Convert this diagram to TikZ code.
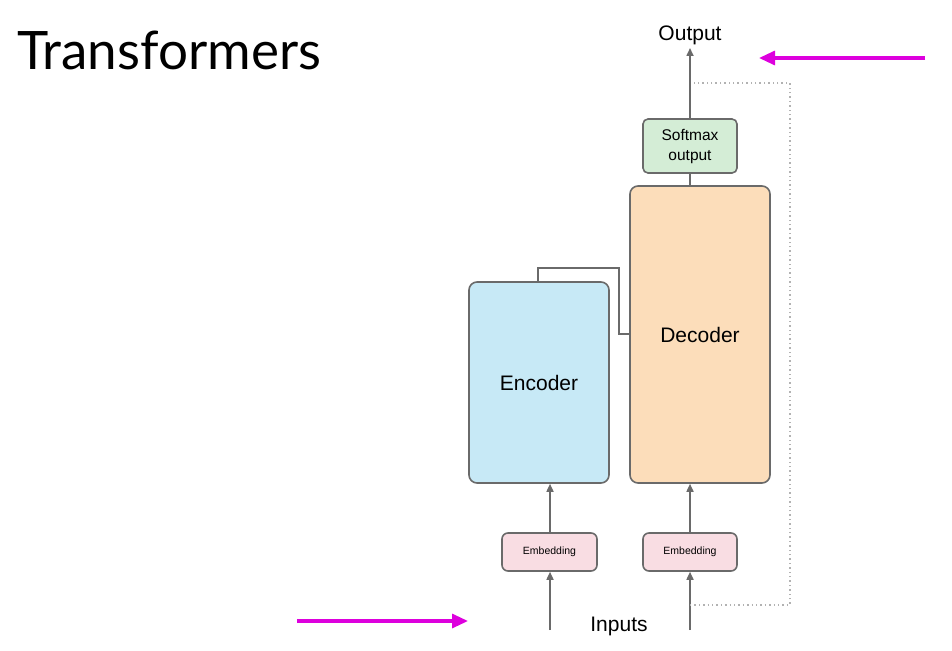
\documentclass[tikz,border=0pt]{standalone}
\usepackage{fontspec}
\setmainfont{Liberation Sans}
\newfontfamily\latofont{Lato}
\usetikzlibrary{arrows.meta}
\definecolor{lineg}{HTML}{6A6A6A}
\definecolor{encfill}{HTML}{C7E9F6}
\definecolor{decfill}{HTML}{FCDDBA}
\definecolor{smfill}{HTML}{D4EDD6}
\definecolor{embfill}{HTML}{F9DDE3}
\definecolor{magent}{HTML}{DD00DD}
\tikzset{
  blk/.style={draw=lineg, line width=1.6pt, rounded corners=8pt, inner sep=0pt},
  conn/.style={draw=lineg, line width=1.6pt},
  arr/.style={conn, -{Triangle[width=7pt,length=8pt]}},
  dotl/.style={draw=gray!60, line width=1.4pt, dash pattern=on 1.4pt off 3pt},
  marr/.style={draw=magent, line width=3.2pt, -{Triangle[width=14pt,length=16pt]}},
}
\begin{document}
\begin{tikzpicture}[x=1pt,y=-1pt]
\useasboundingbox (0,0) rectangle (952,650);
\node[anchor=base west, inner sep=0pt, font=\latofont\fontsize{53}{60}\selectfont] (title) at (17,70) {Transformers};
% boxes
\node[blk, fill=encfill, minimum width=140pt, minimum height=201pt, font=\fontsize{21}{24}\selectfont] (enc) at (539,382.5) {Encoder};
\node[blk, fill=decfill, minimum width=140pt, minimum height=297pt, font=\fontsize{21}{24}\selectfont] (dec) at (700,334.5) {Decoder};
\node[blk, fill=smfill, rounded corners=5pt, minimum width=94pt, minimum height=54pt, align=center, font=\fontsize{15.5}{20}\selectfont] (sm) at (690,146) {Softmax\\output};
\node[blk, fill=embfill, rounded corners=6pt, minimum width=95pt, minimum height=38pt, font=\fontsize{10.5}{12}\selectfont] (emb1) at (549.5,552) {Embedding};
\node[blk, fill=embfill, rounded corners=6pt, minimum width=94pt, minimum height=38pt, font=\fontsize{10.5}{12}\selectfont] (emb2) at (690,552) {Embedding};
% texts
\node[font=\fontsize{21}{24}\selectfont, inner sep=0pt] (out) at (690,35) {Output};
\node[font=\fontsize{21}{24}\selectfont, inner sep=0pt] (inp) at (619,626) {Inputs};
% coordinates
\coordinate (in1) at (550,630);
\coordinate (in2) at (690,630);
\coordinate (outtip) at (690,48);
\coordinate (e1) at (538,268);
\coordinate (e2) at (619,268);
\coordinate (e3) at (619,334);
\coordinate (d1) at (690,605);
\coordinate (d2) at (790,605);
\coordinate (d3) at (790,83);
\coordinate (d4) at (694,83);
\coordinate (m1s) at (297,621);
\coordinate (m1e) at (468,621);
\coordinate (m2s) at (925,58);
\coordinate (m2e) at (759,58);
% connectors
\draw[arr] (in1) -- (in1 |- emb1.south);
\draw[arr] (in2) -- (emb2.south);
\draw[arr] (emb1.north -| in1) -- (in1 |- enc.south);
\draw[arr] (emb2.north) -- (emb2.north |- dec.south);
\draw[conn] (sm.south |- dec.north) -- (sm.south);
\draw[arr] (sm.north) -- (outtip);
\draw[conn] (e1 |- enc.north) -- (e1) -- (e2) -- (e3) -- (e3 -| dec.west);
\draw[dotl] (d1) -- (d2) -- (d3) -- (d4);
\draw[marr] (m1s) -- (m1e);
\draw[marr] (m2s) -- (m2e);
\end{tikzpicture}
\end{document}
